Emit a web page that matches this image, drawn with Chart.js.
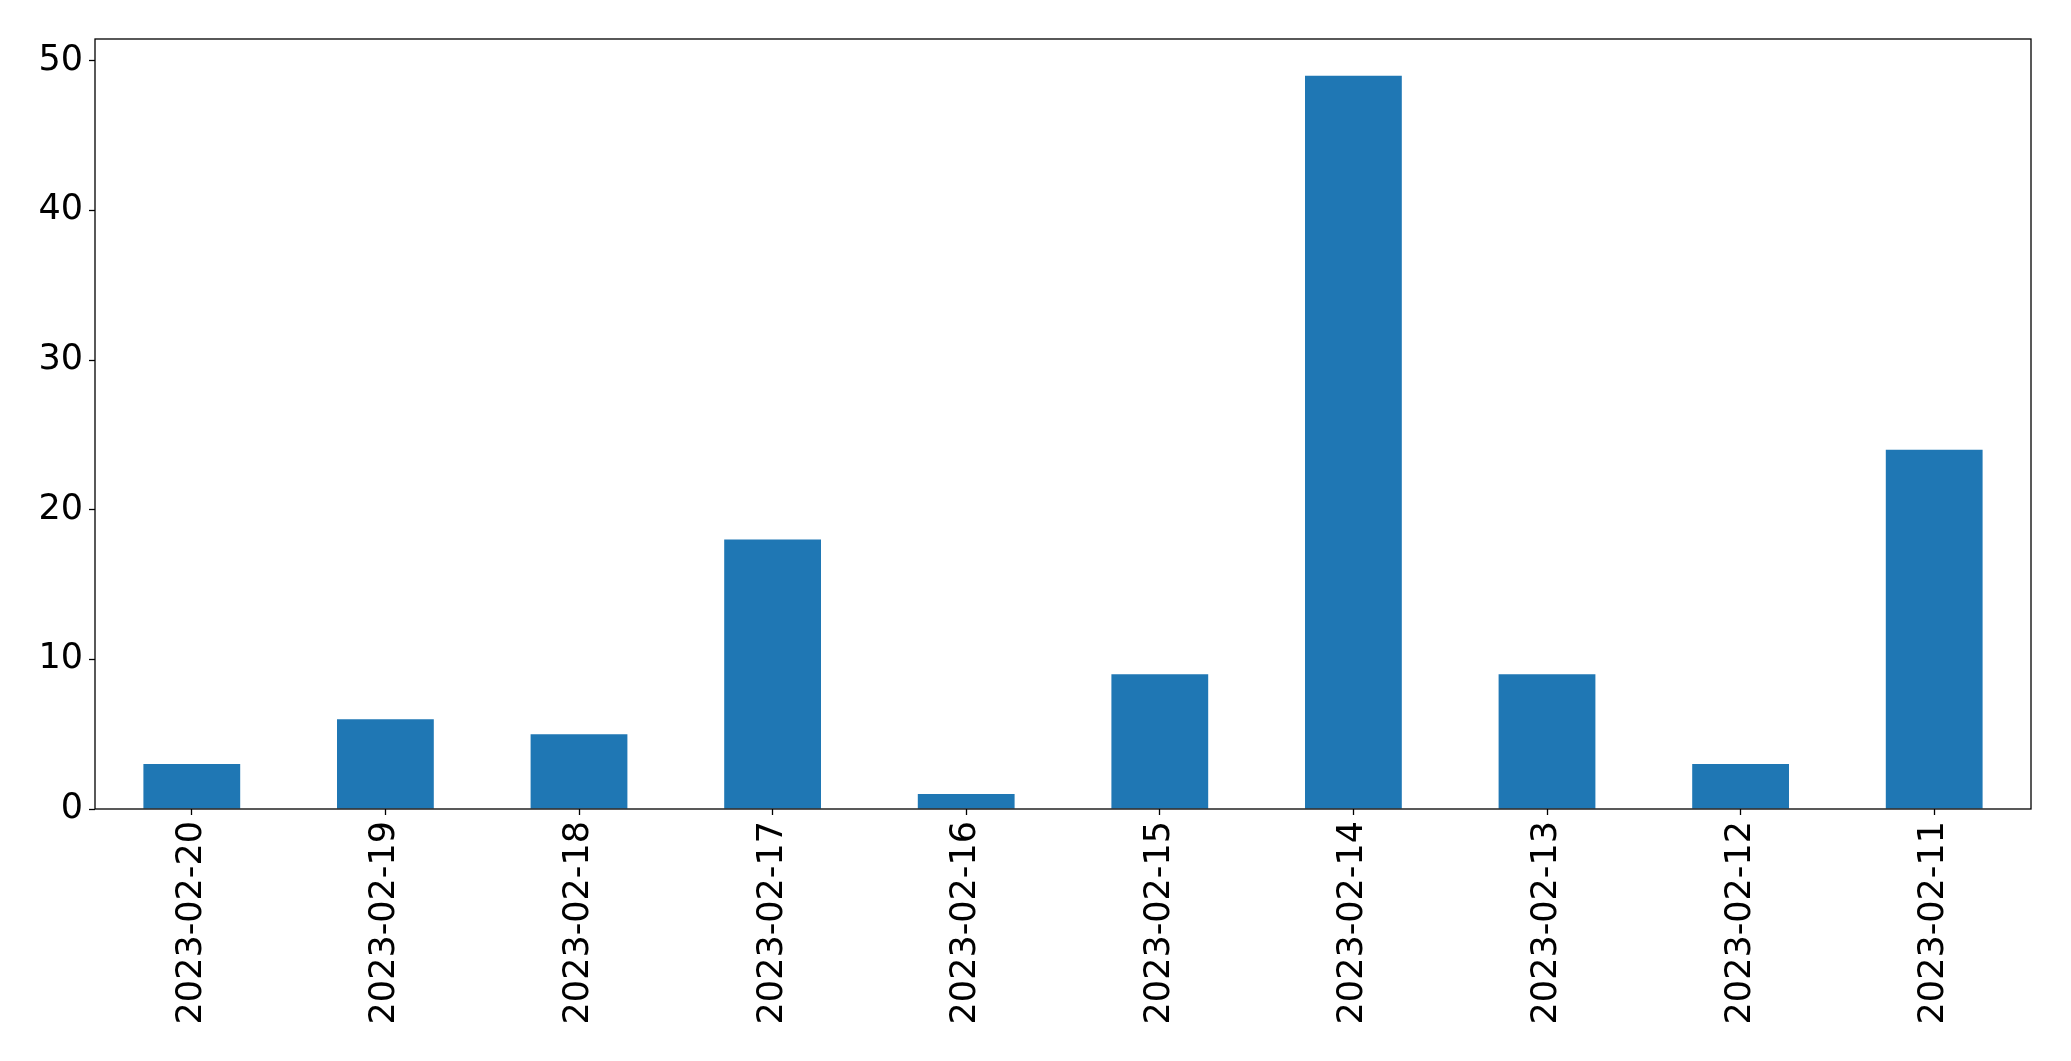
<!DOCTYPE html>
<html>
<head>
<meta charset="utf-8">
<script src="https://cdn.jsdelivr.net/npm/chart.js@4.4.0/dist/chart.umd.min.js"></script>
<style>
    html, body { margin: 0; padding: 0; background: #fff; }
    #wrap { width: 2071px; height: 1061px; }
</style>
</head>
<body>
<div id="wrap"><canvas id="barChart"></canvas></div>
<script>
const labels = ['2023-02-20', '2023-02-19', '2023-02-18', '2023-02-17', '2023-02-16',
    '2023-02-15', '2023-02-14', '2023-02-13', '2023-02-12', '2023-02-11'];
const counts = [3, 6, 5, 18, 1, 9, 49, 9, 3, 24];
const yTicks = [0, 10, 20, 30, 40, 50];

// kotak bingkai seperti matplotlib
const frame = {
    id: 'frame',
    afterDraw(chart) {
        const { ctx, chartArea: a } = chart;
        ctx.save();
        ctx.strokeStyle = '#000';
        ctx.lineWidth = 1.3;
        ctx.strokeRect(a.left, a.top, a.right - a.left, a.bottom - a.top);
        ctx.restore();
    }
};

Chart.defaults.font.family = "'DejaVu Sans', sans-serif";
Chart.defaults.color = '#000';

new Chart(document.getElementById('barChart').getContext('2d'), {
    type: 'bar',
    data: {
        labels: labels,
        datasets: [{
            data: counts,
            backgroundColor: '#1f77b4',
            categoryPercentage: 1,
            barPercentage: 0.5
        }]
    },
    options: {
        responsive: true,
        maintainAspectRatio: false,
        animation: false,
        layout: { padding: { top: 39, right: 40, left: 0, bottom: 0 } },
        plugins: {
            legend: { display: false },
            tooltip: { enabled: false }
        },
        scales: {
            x: {
                grid: {
                    offset: false,
                    drawOnChartArea: false,
                    drawTicks: true,
                    tickLength: 6,
                    tickColor: '#000',
                    tickWidth: 1.3
                },
                border: { display: false },
                ticks: {
                    font: { size: 35 },
                    maxRotation: 90,
                    minRotation: 90,
                    padding: 6
                },
                afterFit(scale) { scale.height = 252; }
            },
            y: {
                min: 0,
                max: 51.45,
                afterBuildTicks(scale) {
                    scale.ticks = yTicks.map(v => ({ value: v }));
                },
                grid: {
                    drawOnChartArea: false,
                    drawTicks: true,
                    tickLength: 6,
                    tickColor: '#000',
                    tickWidth: 1.3
                },
                border: { display: false },
                ticks: {
                    font: { size: 35 },
                    padding: 6
                },
                afterFit(scale) { scale.width = 95; }
            }
        }
    },
    plugins: [frame]
});
</script>
</body>
</html>
